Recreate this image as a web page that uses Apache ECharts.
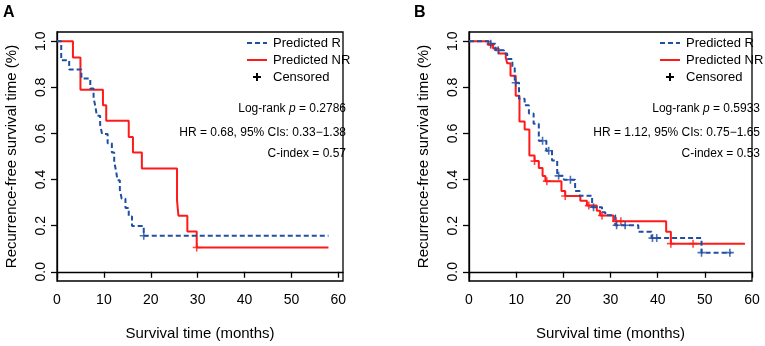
<!DOCTYPE html>
<html>
<head>
<meta charset="utf-8">
<script src="https://cdn.jsdelivr.net/npm/echarts@6/dist/echarts.min.js"></script>
<style>
  html, body { margin: 0; padding: 0; background: #fff; }
  #chart { width: 765px; height: 346px; }
</style>
</head>
<body>
<div id="chart"></div>
<script>
// ---- data ----
const xTicks = [0, 10, 20, 30, 40, 50, 60];
const yTicks = [0, 0.2, 0.4, 0.6, 0.8, 1.0];

// panel A
const aRTime = [0, 0.9, 2.6, 5.2, 7.1, 7.8, 8.2, 8.5, 9.2, 9.6, 10.8, 11.7, 12.2, 12.6, 12.9, 13.4, 13.8, 14.6, 15.3, 16.0, 18.5, 57.9];
const aRSurv = [1, 0.917, 0.877, 0.838, 0.795, 0.755, 0.715, 0.677, 0.638, 0.598, 0.557, 0.517, 0.477, 0.437, 0.397, 0.357, 0.317, 0.277, 0.24, 0.199, 0.156, 0.156];
const aRCensTime = [18.5];
const aRCensSurv = [0.156];

const aNRTime = [0, 3.4, 5.0, 9.8, 10.5, 15.3, 16.2, 18.1, 25.6, 25.9, 27.8, 29.8, 57.9];
const aNRSurv = [1, 0.929, 0.79, 0.722, 0.655, 0.585, 0.517, 0.448, 0.31, 0.243, 0.175, 0.105, 0.105];
const aNRCensTime = [29.8];
const aNRCensSurv = [0.105];

// panel B
const bRTime = [0, 4.2, 5.6, 7.4, 8.1, 9.2, 9.7, 10.6, 11.8, 12.7, 13.7, 14.8, 16.4, 17.6, 18.7, 20.1, 22.5, 23.5, 26.1, 28.2, 28.9, 31.0, 35.9, 38.7, 49.3, 55.6];
const bRSurv = [1, 0.989, 0.961, 0.947, 0.923, 0.884, 0.82, 0.75, 0.722, 0.687, 0.642, 0.568, 0.525, 0.483, 0.416, 0.399, 0.35, 0.33, 0.28, 0.258, 0.245, 0.202, 0.174, 0.146, 0.083, 0.083];
const bRCensTime = [4.6, 6.2, 9.9, 15.6, 16.9, 19.0, 21.5, 26.4, 31.3, 33.1, 38.9, 39.8, 49.3, 55.3];
const bRCensSurv = [0.989, 0.961, 0.82, 0.568, 0.525, 0.416, 0.399, 0.28, 0.202, 0.202, 0.146, 0.146, 0.083, 0.083];

const bNRTime = [0, 4.1, 5.1, 6.3, 7.8, 8.1, 8.8, 9.9, 10.7, 11.8, 12.8, 13.9, 14.8, 15.6, 16.2, 19.6, 20.4, 23.6, 25.0, 27.1, 27.8, 30.6, 41.8, 42.8, 58.5];
const bNRSurv = [1, 0.985, 0.968, 0.947, 0.928, 0.905, 0.85, 0.764, 0.652, 0.617, 0.504, 0.48, 0.45, 0.415, 0.393, 0.35, 0.329, 0.308, 0.287, 0.265, 0.244, 0.219, 0.174, 0.122, 0.122];
const bNRCensTime = [4.6, 13.9, 16.5, 20.4, 25.4, 28.2, 31.2, 32.2, 42.8, 47.5];
const bNRCensSurv = [0.985, 0.48, 0.393, 0.329, 0.287, 0.244, 0.219, 0.219, 0.122, 0.122];

const legendNames = ['Predicted R', 'Predicted NR', 'Censored'];
const statsA = ['0.2786', 'HR = 0.68, 95% CIs: 0.33\u22121.38', 'C-index = 0.57'];
const statsB = ['0.5933', 'HR = 1.12, 95% CIs: 0.75\u22121.65', 'C-index = 0.53'];

// ---- styling ----
const BLUE = '#1f4fa3';
const RED = '#ff1a1a';
const FONT = 'Liberation Sans, Arial, sans-serif';
const PLUS = 'path://M4,0H6V4H10V6H6V10H4V6H0V4H4Z';

const zip = (xs, ys) => xs.map((x, i) => [x, ys[i]]);

function xAxisFor(grid, max) {
  return {
    gridIndex: grid, type: 'value', min: 0, max: max,
    name: 'Survival time (months)', nameLocation: 'middle', nameGap: 45,
    nameTextStyle: {color: '#000', fontSize: 15, fontFamily: FONT},
    axisLine: {show: true, lineStyle: {color: '#000', width: 1.3}},
    axisTick: {show: true, length: 6, customValues: xTicks, lineStyle: {color: '#000', width: 1.3}},
    axisLabel: {customValues: xTicks, color: '#000', fontSize: 14, fontFamily: FONT, margin: 12},
    splitLine: {show: false}
  };
}

function yAxisFor(grid) {
  return {
    gridIndex: grid, type: 'value', min: -0.04, max: 1.04,
    name: 'Recurrence-free survival time (%)', nameLocation: 'middle', nameGap: 38,
    nameTextStyle: {color: '#000', fontSize: 15, fontFamily: FONT},
    axisLine: {show: true, lineStyle: {color: '#000', width: 1.3}},
    axisTick: {show: true, length: 6, customValues: yTicks, lineStyle: {color: '#000', width: 1.3}},
    axisLabel: {customValues: yTicks, rotate: 90, color: '#000', fontSize: 14, fontFamily: FONT, margin: 9,
      formatter: v => v.toFixed(1)},
    splitLine: {show: false}
  };
}

function curve(name, xs, ys, color, dashed, idx) {
  return {
    name: name, type: 'line', step: 'end', symbol: 'none',
    xAxisIndex: idx, yAxisIndex: idx,
    data: zip(xs, ys),
    lineStyle: {color: color, width: 2, type: dashed ? [5, 3] : 'solid'},
    z: dashed ? 3 : 2, silent: true
  };
}

function censor(xs, ys, color, idx) {
  return {
    type: 'scatter', symbol: PLUS, symbolSize: 8,
    xAxisIndex: idx, yAxisIndex: idx,
    data: zip(xs, ys),
    itemStyle: {color: color}, z: 4, silent: true
  };
}

function legendBlock(lineX, textX) {
  const t = (s, y) => ({type: 'text', style: {text: s, x: textX, y: y, fill: '#000',
    font: '13px ' + FONT, verticalAlign: 'middle'}});
  return [
    {type: 'line', shape: {x1: lineX, y1: 43, x2: lineX + 20, y2: 43},
      style: {stroke: BLUE, lineWidth: 2, lineDash: [5, 3]}},
    {type: 'line', shape: {x1: lineX, y1: 60, x2: lineX + 20, y2: 60},
      style: {stroke: RED, lineWidth: 2}},
    {type: 'line', shape: {x1: lineX + 6, y1: 77, x2: lineX + 14, y2: 77},
      style: {stroke: '#000', lineWidth: 2}},
    {type: 'line', shape: {x1: lineX + 10, y1: 73, x2: lineX + 10, y2: 81},
      style: {stroke: '#000', lineWidth: 2}},
    t(legendNames[0], 43), t(legendNames[1], 60), t(legendNames[2], 77)
  ];
}

function statsBlock(rightX, stats) {
  const base = {fill: '#000', font: '12px ' + FONT, align: 'right', verticalAlign: 'middle'};
  return [
    {type: 'text', style: Object.assign({}, base, {x: rightX, y: 109,
      text: '{a|Log-rank }{i|p}{a| = ' + stats[0] + '}',
      rich: {a: {fontSize: 12, fontFamily: FONT, fill: '#000'},
             i: {fontSize: 12, fontFamily: FONT, fontStyle: 'italic', fill: '#000'}}})},
    {type: 'text', style: Object.assign({}, base, {x: rightX, y: 133, text: stats[1]})},
    {type: 'text', style: Object.assign({}, base, {x: rightX, y: 154, text: stats[2]})}
  ];
}

const chart = echarts.init(document.getElementById('chart'));
chart.setOption({
  animation: false,
  backgroundColor: '#fff',
  grid: [
    {left: 57, top: 32, width: 286, height: 255, show: true, borderColor: '#000', borderWidth: 1.3, backgroundColor: 'transparent'},
    {left: 469, top: 32, width: 283, height: 255, show: true, borderColor: '#000', borderWidth: 1.3, backgroundColor: 'transparent'}
  ],
  xAxis: [xAxisFor(0, 61), xAxisFor(1, 60)],
  yAxis: [yAxisFor(0), yAxisFor(1)],
  series: [
    curve('Predicted NR', aNRTime, aNRSurv, RED, false, 0),
    curve('Predicted R', aRTime, aRSurv, BLUE, true, 0),
    censor(aNRCensTime, aNRCensSurv, RED, 0),
    censor(aRCensTime, aRCensSurv, BLUE, 0),
    curve('Predicted NR', bNRTime, bNRSurv, RED, false, 1),
    curve('Predicted R', bRTime, bRSurv, BLUE, true, 1),
    censor(bNRCensTime, bNRCensSurv, RED, 1),
    censor(bRCensTime, bRCensSurv, BLUE, 1)
  ],
  graphic: [
    {type: 'text', style: {text: 'A', x: 3, y: 5, fill: '#000', font: 'bold 16px ' + FONT}},
    {type: 'text', style: {text: 'B', x: 414, y: 5, fill: '#000', font: 'bold 16px ' + FONT}}
  ].concat(legendBlock(247, 273), statsBlock(346, statsA), legendBlock(660, 686), statsBlock(760, statsB))
});
</script>
</body>
</html>
